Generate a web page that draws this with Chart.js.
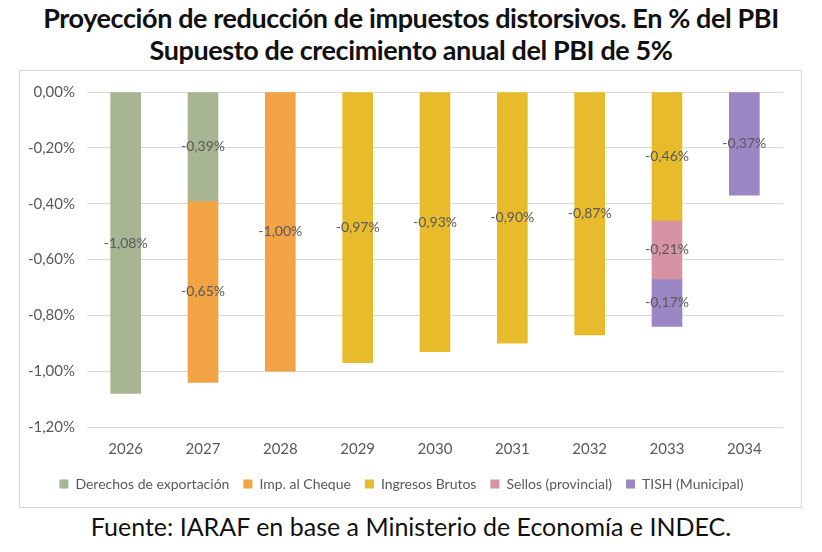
<!DOCTYPE html>
<html>
<head>
<meta charset="utf-8">
<script src="https://cdn.jsdelivr.net/npm/chart.js@4"></script>
<style>
  body { margin: 0; background: #fff; width: 822px; height: 552px; position: relative; font-family: Lato, sans-serif; }
  #title { position: absolute; left: 0; top: 2px; width: 822px; text-align: center; font-weight: 700; font-size: 27px; line-height: 32px; color: #111; letter-spacing: -0.4px; }
  #box { position: absolute; left: 19px; top: 70px; width: 781px; height: 436px; border: 1px solid #d9d9d9; }
  #source { position: absolute; left: 0; top: 511px; width: 822px; text-align: center; font-size: 25px; color: #111; }
</style>
</head>
<body>
<div id="title">Proyección de reducción de impuestos distorsivos. En % del PBI<br>Supuesto de crecimiento anual del PBI de 5%</div>
<div id="box"><canvas id="chart" width="781" height="436"></canvas></div>
<div id="source">Fuente: IARAF en base a Ministerio de Economía e INDEC.</div>
<script>
const years = ['2026', '2027', '2028', '2029', '2030', '2031', '2032', '2033', '2034'];
const derechosExportacion = [-1.08, -0.39, null, null, null, null, null, null, null];
const impCheque = [null, -0.65, -1.00, null, null, null, null, null, null];
const ingresosBrutos = [null, null, null, -0.97, -0.93, -0.90, -0.87, -0.46, null];
const sellos = [null, null, null, null, null, null, null, -0.21, null];
const tish = [null, null, null, null, null, null, null, -0.17, -0.37];

function pct(v) {
    const s = Math.abs(v) < 1e-9 ? '0.00' : v.toFixed(2);
    return s.replace('.', ',') + '%';
}

// labels in the middle of each segment
const segmentLabels = {
    id: 'segmentLabels',
    afterDatasetsDraw(chart) {
        const ctx = chart.ctx;
        ctx.save();
        ctx.font = '14px Lato';
        ctx.fillStyle = '#595959';
        ctx.textAlign = 'center';
        ctx.textBaseline = 'middle';
        chart.data.datasets.forEach((ds, i) => {
            chart.getDatasetMeta(i).data.forEach((bar, j) => {
                const v = ds.data[j];
                if (v === null) return;
                ctx.fillText(pct(v), bar.x, (bar.y + bar.base) / 2);
            });
        });
        ctx.restore();
    }
};

new Chart(document.getElementById('chart'), {
    type: 'bar',
    data: {
        labels: years,
        datasets: [
            { label: 'Derechos de exportación', data: derechosExportacion, backgroundColor: '#a7b593' },
            { label: 'Imp. al Cheque', data: impCheque, backgroundColor: '#f2a344' },
            { label: 'Ingresos Brutos', data: ingresosBrutos, backgroundColor: '#e7bb2b' },
            { label: 'Sellos (provincial)', data: sellos, backgroundColor: '#d693a3' },
            { label: 'TISH (Municipal)', data: tish, backgroundColor: '#9a87c4' }
        ]
    },
    options: {
        responsive: false,
        animation: false,
        datasets: { bar: { barThickness: 30 } },
        layout: { padding: { top: 20, right: 18, bottom: 6, left: 0 } },
        plugins: {
            title: { display: false },
            tooltip: { enabled: false },
            legend: {
                position: 'bottom',
                labels: {
                    boxWidth: 9,
                    boxHeight: 9,
                    padding: 14,
                    color: '#595959',
                    font: { family: 'Lato', size: 14 }
                }
            }
        },
        scales: {
            x: {
                stacked: true,
                grid: { display: false },
                border: { display: false },
                ticks: { color: '#595959', padding: 5, font: { family: 'Lato', size: 15 } }
            },
            y: {
                stacked: true,
                min: -1.2,
                max: 0,
                afterFit(scale) { scale.width = 67; },
                grid: { color: '#d9d9d9', drawTicks: false },
                border: { display: false },
                ticks: {
                    stepSize: 0.2,
                    padding: 12,
                    color: '#595959',
                    font: { family: 'Lato', size: 15 },
                    callback: v => pct(v)
                }
            }
        }
    },
    plugins: [segmentLabels]
});
</script>
</body>
</html>
